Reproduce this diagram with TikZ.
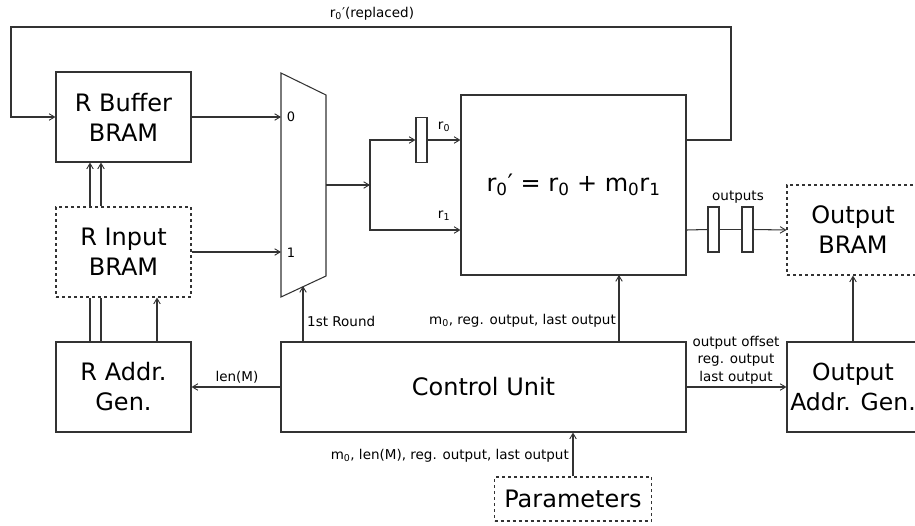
\documentclass[tikz,border=0pt]{standalone}
\usepackage{fontspec}
\setmainfont{DejaVu Sans}
\usetikzlibrary{arrows.meta}
\begin{document}
\begin{tikzpicture}[x=1pt,y=-1pt,
  ln/.style={line width=1.05pt,draw=black!80},
  arr/.style={ln,-{Straight Barb[length=5.5pt,width=6.5pt,line width=0.9pt]}},
  blk/.style={ln,rectangle,inner sep=0pt,align=center,font=\fontsize{24}{30}\selectfont},
  dblk/.style={blk,dash pattern=on 3pt off 3pt},
  regbox/.style={ln,rectangle,inner sep=0pt,minimum width=11pt,minimum height=45pt},
  lbl/.style={inner sep=0pt,font=\fontsize{13.5}{17.5}\selectfont,align=center}]
\useasboundingbox (0,0) rectangle (915,525);
\clip (0,0) rectangle (915,525);
% blocks
\node[blk,minimum width=135pt,minimum height=90pt] (rbuf) at (123.5,117) {R Buffer\\BRAM};
\node[dblk,minimum width=135pt,minimum height=90pt] (rin) at (123.5,252) {R Input\\BRAM};
\node[blk,minimum width=135pt,minimum height=90pt] (raddr) at (123.5,387) {R Addr.\\Gen.};
\node[blk,minimum width=225pt,minimum height=180pt] (comp) at (573.5,185) {r\textsubscript{0}′ = r\textsubscript{0} + m\textsubscript{0}r\textsubscript{1}};
\node[blk,minimum width=405pt,minimum height=90pt] (ctrl) at (483.5,387) {Control Unit};
\node[blk,minimum width=132pt,minimum height=90pt,font=\fontsize{23.5}{30}\selectfont] (oaddr) at (853,387) {Output\\Addr. Gen.};
\node[dblk,minimum width=132pt,minimum height=90pt] (obram) at (853,230) {Output\\BRAM};
\node[dblk,minimum width=157pt,minimum height=44pt] (params) at (573,499) {Parameters};
% registers
\node[regbox] (reg0) at (421.5,140) {};
\node[regbox] (oreg1) at (713.5,229.5) {};
\node[regbox] (oreg2) at (747.5,229.5) {};
% multiplexer
\draw[ln] (281,73) -- (326,95) -- (326,276) -- (281,297) -- cycle;
\coordinate (in0) at (281,117);
\coordinate (in1) at (281,252);
\coordinate (muxout) at (326,185);
\coordinate (sel) at (303,286);
\coordinate (split) at (370,185);
\node[lbl,font=\fontsize{13}{16}\selectfont] at (291,117) {0};
\node[lbl,font=\fontsize{13}{16}\selectfont] at (291,253) {1};
% feedback
\coordinate (fbA) at (731,140);
\coordinate (fbB) at (11,27);
\draw[arr] ([yshift=45pt]comp.east) -- (fbA) |- (fbB) |- (rbuf.west);
\node[lbl] at (372,14) {r\textsubscript{0}′(replaced)};
% data paths
\draw[arr] (rbuf.east) -- (in0);
\draw[arr] (rin.east) -- (in1);
\draw[arr] ([xshift=-33.5pt]rin.north) -- ([xshift=-33.5pt]rbuf.south);
\draw[arr] ([xshift=-22.5pt]rin.north) -- ([xshift=-22.5pt]rbuf.south);
\draw[ln] ([xshift=-33.5pt]raddr.north) -- ([xshift=-33.5pt]rin.south);
\draw[ln] ([xshift=-22.5pt]raddr.north) -- ([xshift=-22.5pt]rin.south);
\draw[arr] ([xshift=33.5pt]raddr.north) -- ([xshift=33.5pt]rin.south);
\draw[arr] (muxout) -- (split);
\draw[arr] (split) |- (reg0.west);
\draw[arr] (split) |- ([yshift=-45pt]comp.west);
\draw[arr] (reg0.east) -- (reg0.east -| comp.west);
\node[lbl] at (444,127) {r\textsubscript{0}};
\node[lbl] at (444,216) {r\textsubscript{1}};
\draw[ln] ([yshift=-45pt]comp.east) -- (oreg1.west);
\draw[ln] (oreg1.east) -- (oreg2.west);
\draw[arr] (oreg2.east) -- (obram.west);
\node[lbl] at (738,197) {outputs};
% control paths
\draw[arr] (ctrl.west) -- (raddr.east);
\node[lbl] at (237,377) {len(M)};
\draw[arr] (sel |- ctrl.north) -- (sel);
\node[lbl,anchor=west] at (307,321) {1st Round};
\coordinate (cu) at (619,275);
\draw[arr] (cu |- ctrl.north) -- (cu);
\node[lbl,anchor=east] at (616,321) {m\textsubscript{0}, reg. output, last output};
\draw[arr] (ctrl.east) -- (oaddr.west);
\node[lbl] at (736,360) {output offset\\reg. output\\last output};
\draw[arr] (oaddr.north) -- (obram.south);
\draw[arr] (params.north) -- (params.north |- ctrl.south);
\node[lbl,anchor=east] at (569,456) {m\textsubscript{0}, len(M), reg. output, last output};
\end{tikzpicture}
\end{document}
